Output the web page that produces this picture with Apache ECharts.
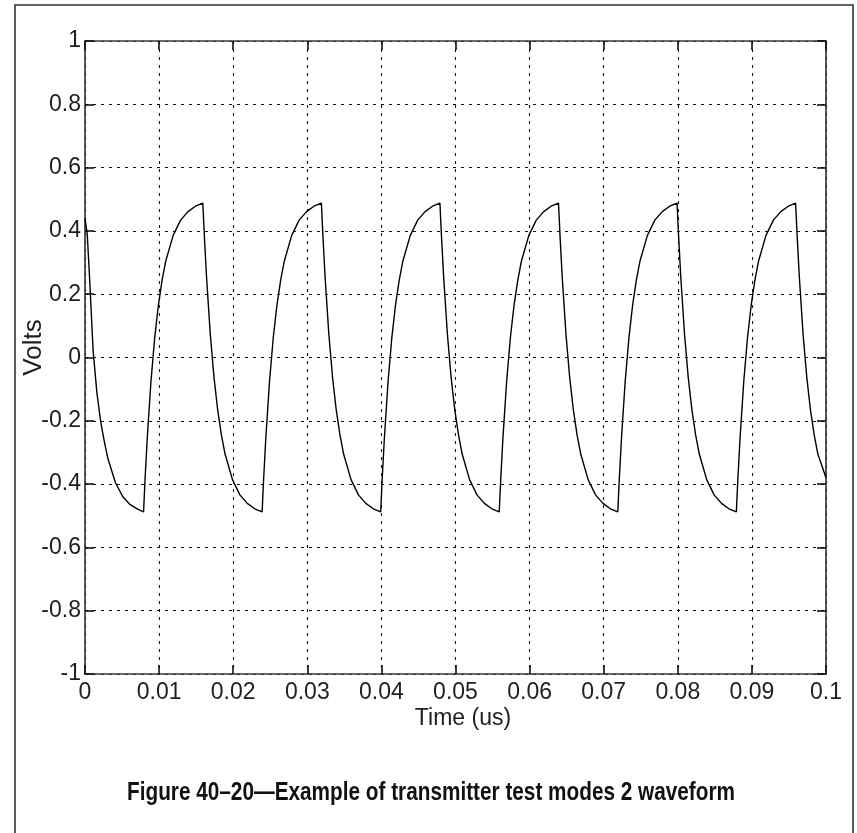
<!DOCTYPE html>
<html>
<head>
<meta charset="utf-8">
<title>Transmitter test mode 2 waveform</title>
<script src="https://cdn.jsdelivr.net/npm/echarts@6/dist/echarts.min.js"></script>
<style>
  html, body { margin: 0; padding: 0; background: #fff; }
  #chart { width: 857px; height: 833px; }
</style>
</head>
<body>
<div id="chart"></div>
<script>
// Sampled waveform: time in microseconds, amplitude in volts.
const timeUs = [
  0, 0.0003, 0.0006, 0.0011, 0.0016, 0.0021, 0.0026, 0.0031, 0.0041, 0.0051, 0.0061, 0.0071,
  0.0079, 0.0081, 0.0084, 0.0089, 0.0094, 0.0099, 0.0104, 0.0109, 0.0119, 0.0129, 0.0139, 0.0149,
  0.0159, 0.0161, 0.0164, 0.0169, 0.0174, 0.0179, 0.0184, 0.0189, 0.0199, 0.0209, 0.0219, 0.0229,
  0.0239, 0.0241, 0.0244, 0.0249, 0.0254, 0.0259, 0.0264, 0.0269, 0.0279, 0.0289, 0.0299, 0.0309,
  0.0319, 0.0321, 0.0324, 0.0329, 0.0334, 0.0339, 0.0344, 0.0349, 0.0359, 0.0369, 0.0379, 0.0389,
  0.0399, 0.0401, 0.0404, 0.0409, 0.0414, 0.0419, 0.0424, 0.0429, 0.0439, 0.0449, 0.0459, 0.0469,
  0.0479, 0.0481, 0.0484, 0.0489, 0.0494, 0.0499, 0.0504, 0.0509, 0.0519, 0.0529, 0.0539, 0.0549,
  0.0559, 0.0561, 0.0564, 0.0569, 0.0574, 0.0579, 0.0584, 0.0589, 0.0599, 0.0609, 0.0619, 0.0629,
  0.0639, 0.0641, 0.0644, 0.0649, 0.0654, 0.0659, 0.0664, 0.0669, 0.0679, 0.0689, 0.0699, 0.0709,
  0.0719, 0.0721, 0.0724, 0.0729, 0.0734, 0.0739, 0.0744, 0.0749, 0.0759, 0.0769, 0.0779, 0.0789,
  0.0799, 0.0801, 0.0804, 0.0809, 0.0814, 0.0819, 0.0824, 0.0829, 0.0839, 0.0849, 0.0859, 0.0869,
  0.0879, 0.0881, 0.0884, 0.0889, 0.0894, 0.0899, 0.0904, 0.0909, 0.0919, 0.0929, 0.0939, 0.0949,
  0.0959, 0.0961, 0.0964, 0.0969, 0.0974, 0.0979, 0.0984, 0.0989, 0.1
];

const volts = [
  0.44, 0.39, 0.26, 0.02, -0.11, -0.20, -0.265, -0.32, -0.395, -0.44, -0.465, -0.479,
  -0.488, -0.387, -0.255, -0.076, 0.061, 0.165, 0.244, 0.305, 0.386, 0.434, 0.461, 0.478,
  0.488, 0.387, 0.255, 0.076, -0.061, -0.165, -0.244, -0.305, -0.386, -0.434, -0.461, -0.478,
  -0.488, -0.387, -0.255, -0.076, 0.061, 0.165, 0.244, 0.305, 0.386, 0.434, 0.461, 0.478,
  0.488, 0.387, 0.255, 0.076, -0.061, -0.165, -0.244, -0.305, -0.386, -0.434, -0.461, -0.478,
  -0.488, -0.387, -0.255, -0.076, 0.061, 0.165, 0.244, 0.305, 0.386, 0.434, 0.461, 0.478,
  0.488, 0.387, 0.255, 0.076, -0.061, -0.165, -0.244, -0.305, -0.386, -0.434, -0.461, -0.478,
  -0.488, -0.387, -0.255, -0.076, 0.061, 0.165, 0.244, 0.305, 0.386, 0.434, 0.461, 0.478,
  0.488, 0.387, 0.255, 0.076, -0.061, -0.165, -0.244, -0.305, -0.386, -0.434, -0.461, -0.478,
  -0.488, -0.387, -0.255, -0.076, 0.061, 0.165, 0.244, 0.305, 0.386, 0.434, 0.461, 0.478,
  0.488, 0.387, 0.255, 0.076, -0.061, -0.165, -0.244, -0.305, -0.386, -0.434, -0.461, -0.478,
  -0.488, -0.387, -0.255, -0.076, 0.061, 0.165, 0.244, 0.305, 0.386, 0.434, 0.461, 0.478,
  0.488, 0.387, 0.255, 0.076, -0.061, -0.165, -0.244, -0.305, -0.38
];

// Axis ranges and tick spacing
const xMin = 0, xMax = 0.1, xStep = 0.01;
const yMin = -1, yMax = 1, yStep = 0.2;

const xAxisTitle = 'Time (us)';
const yAxisTitle = 'Volts';
const figureCaption = 'Figure 40\u201320\u2014Example of transmitter test modes 2 waveform';

const sans = "'Liberation Sans', Arial, Helvetica, sans-serif";
const axisColor = '#3a3a3a';
const textColor = '#1e1e1e';

const points = timeUs.map((t, i) => [t, volts[i]]);

// The caption is set in a condensed bold face: squeeze a regular bold run to the wanted width.
const captionFontSize = 25;
const captionWidth = 608;
const measureCtx = document.createElement('canvas').getContext('2d');
measureCtx.font = 'bold ' + captionFontSize + 'px ' + sans;
const captionScale = captionWidth / measureCtx.measureText(figureCaption).width;

const gridLine = { show: true, lineStyle: { color: '#111', width: 1.1, type: [3, 5] } };
const frameLine = { show: true, onZero: false, lineStyle: { color: axisColor, width: 1.7 } };
const innerTick = { show: true, inside: true, length: 9, lineStyle: { color: '#111', width: 1.6 } };

const chart = echarts.init(document.getElementById('chart'), null, { renderer: 'canvas' });

chart.setOption({
  animation: false,
  backgroundColor: '#fff',
  grid: { left: 85, right: 31, top: 41, bottom: 159, containLabel: false, outerBoundsMode: 'none' },
  xAxis: [
    {
      type: 'value', position: 'bottom', min: xMin, max: xMax, interval: xStep,
      axisLine: frameLine, axisTick: innerTick, splitLine: gridLine,
      axisLabel: { margin: 7, fontSize: 23, fontFamily: sans, color: textColor },
      name: xAxisTitle, nameLocation: 'middle', nameGap: 33, nameMoveOverlap: false,
      nameTextStyle: { fontSize: 23, fontFamily: sans, color: textColor, padding: [0, 0, 0, 15] }
    },
    {
      type: 'value', position: 'top', min: xMin, max: xMax, interval: xStep,
      axisLine: frameLine, axisTick: innerTick, splitLine: { show: false },
      axisLabel: { show: false }
    }
  ],
  yAxis: [
    {
      type: 'value', position: 'left', min: yMin, max: yMax, interval: yStep,
      axisLine: frameLine, axisTick: innerTick, splitLine: gridLine,
      axisLabel: { margin: 4, fontSize: 23, fontFamily: sans, color: textColor },
      name: yAxisTitle, nameLocation: 'middle', nameGap: 38, nameRotate: 90, nameMoveOverlap: false,
      nameTextStyle: { fontSize: 26, fontFamily: sans, color: textColor, padding: [0, 0, 0, 20] }
    },
    {
      type: 'value', position: 'right', min: yMin, max: yMax, interval: yStep,
      axisLine: frameLine, axisTick: innerTick, splitLine: { show: false },
      axisLabel: { show: false }
    }
  ],
  series: [
    {
      type: 'line',
      xAxisIndex: 0, yAxisIndex: 0,
      data: points,
      showSymbol: false,
      smooth: false,
      lineStyle: { color: '#000', width: 1.4 },
      clip: true
    }
  ],
  graphic: [
    {
      type: 'rect', silent: true, z: 100,
      shape: { x: 15, y: 5, width: 838, height: 850 },
      style: { fill: null, stroke: '#333', lineWidth: 1.6 }
    },
    {
      type: 'text', silent: true, z: 100,
      x: 431, y: 793, scaleX: captionScale,
      style: {
        text: figureCaption,
        fontFamily: sans, fontWeight: 'bold', fontSize: captionFontSize,
        fill: '#111', align: 'center', verticalAlign: 'middle'
      }
    }
  ]
});
</script>
</body>
</html>
